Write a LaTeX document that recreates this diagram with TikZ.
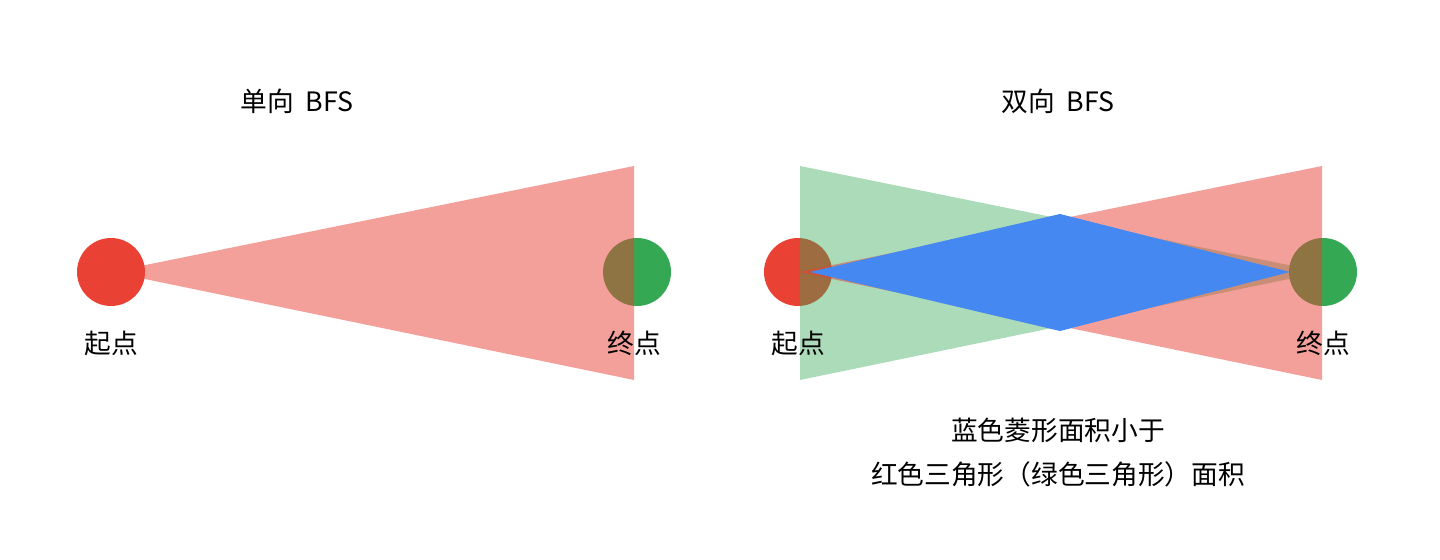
\documentclass[tikz,border=0pt]{standalone}
\usepackage{fontspec}
\setmainfont{Noto Sans CJK SC}
\definecolor{gred}{HTML}{E94235}
\definecolor{ggreen}{HTML}{34A853}
\definecolor{gblue}{HTML}{4688F1}
\begin{document}
\begin{tikzpicture}[x=0.05cm,y=-0.05cm,
  lbl/.style={font=\fontsize{38}{46}\selectfont,inner sep=0},
  dot/.style={circle,minimum size=3.4cm,inner sep=0,draw=none}]
\useasboundingbox (0,0) rectangle (1440,560);
\node[lbl] (t1) at (297,101) {单向\ \ BFS};
\node[lbl] (t2) at (1058,101) {双向\ \ BFS};
% left
\node[dot,fill=gred] (s1) at (111,272) {};
\node[dot,fill=ggreen] (e1) at (637,272) {};
\fill[gred,opacity=0.5] (s1.center) -- (634,166) -- (634,380) -- cycle;
\node[lbl] (ls1) at (111,343) {起点};
\node[lbl] (le1) at (634,343) {终点};
% right
\node[dot,fill=gred] (s2) at (798,272) {};
\node[dot,fill=ggreen] (e2) at (1323,272) {};
\fill[ggreen,opacity=0.41] (e2.center) -- (800,166) -- (800,380) -- cycle;
\fill[gred,opacity=0.5] (s2.center) -- (1322,166) -- (1322,380) -- cycle;
\fill[gblue] (810,272) -- (1060,214) -- (1290,272) -- (1060,331) -- cycle;
\node[lbl] (ls2) at (798,343) {起点};
\node[lbl] (le2) at (1323,343) {终点};
\node[lbl] (c1) at (1058,430) {蓝色菱形面积小于};
\node[lbl] (c2) at (1058,474) {红色三角形（绿色三角形）面积};
\end{tikzpicture}
\end{document}
